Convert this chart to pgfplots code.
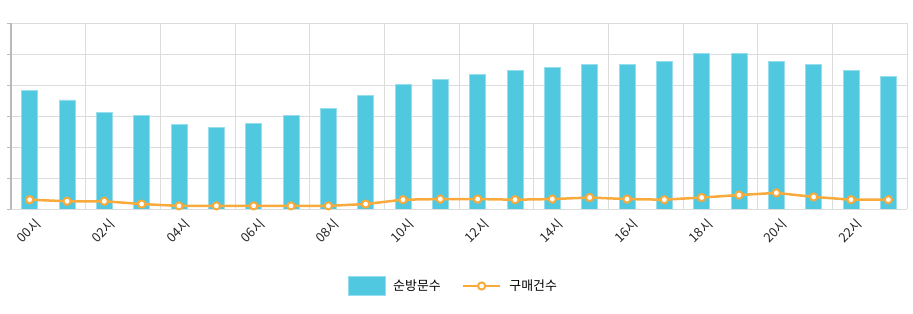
\documentclass[border=0pt]{standalone}
\usepackage{pgfplots}
\pgfplotsset{compat=1.18}
\usepackage{fontspec}
\setmainfont{Noto Sans CJK KR}
\definecolor{barblue}{RGB}{79,200,224}
\definecolor{baredge}{RGB}{150,222,238}
\definecolor{lineor}{RGB}{248,171,60}
\definecolor{gridc}{RGB}{220,220,220}
\definecolor{axc}{RGB}{185,185,190}
\begin{document}
\begin{tikzpicture}
\useasboundingbox (0,0) rectangle (913bp,314bp);
\begin{axis}[
  at={(11bp,105bp)}, anchor=south west,
  width=896bp, height=186bp, scale only axis,
  xmin=-0.5, xmax=23.5, ymin=0, ymax=6,
  axis line style={draw=none},
  xtick={0,2,...,22},
  xticklabels={00시,02시,04시,06시,08시,10시,12시,14시,16시,18시,20시,22시},
  xticklabel style={rotate=45, anchor=north east, font=\fontsize{13}{15}\selectfont, text=black!85, inner sep=1bp, xshift=1.3bp, yshift=-4.7bp},
  minor xtick={1.5,3.5,...,23.5},
  xminorgrids, ymajorgrids,
  minor grid style={gridc, line width=1bp},
  major grid style={gridc, line width=1bp},
  xtick style={draw=none},
  ytick={0,1,...,6}, yticklabel=\empty, ytick pos=left,
  ytick style={draw=axc, line width=1bp},
  tick align=outside, major tick length=4bp,
  legend style={at={(0.497,-0.414)}, anchor=center, draw=none, legend columns=2, font=\fontsize{13}{15}\selectfont,
    nodes={inner xsep=8bp},
    /tikz/every even column/.append style={column sep=13bp}},
  after end axis/.code={\draw[axc, line width=2bp] (rel axis cs:0,0) -- (rel axis cs:0,1);},
]
\addplot[ybar, bar width=16bp, fill=barblue, draw=baredge, line width=0.6bp,
  legend image code/.code={\draw[fill=barblue, draw=baredge, line width=0.6bp] (0bp,-9.5bp) rectangle (37bp,9.5bp);}]
coordinates {
(0,3.83) (1,3.52) (2,3.12) (3,3.01) (4,2.72) (5,2.63) (6,2.77) (7,3.01)
(8,3.24) (9,3.66) (10,4.01) (11,4.19) (12,4.33) (13,4.47) (14,4.56) (15,4.67)
(16,4.67) (17,4.76) (18,5.02) (19,5.02) (20,4.76) (21,4.67) (22,4.47) (23,4.27)
};
\addlegendentry{순방문수}
\addplot[lineor, line width=2.5bp, mark=*, mark size=3.6bp, mark options={fill=white, draw=lineor, line width=2bp},
  legend image code/.code={\draw[lineor, line width=2.5bp] (0bp,0bp) -- (37bp,0bp); \draw[fill=white, draw=lineor, line width=2bp] (18.5bp,0bp) circle (3.6bp);}]
coordinates {
(0,0.30) (1,0.25) (2,0.25) (3,0.16) (4,0.10) (5,0.10) (6,0.10) (7,0.10)
(8,0.10) (9,0.16) (10,0.30) (11,0.32) (12,0.32) (13,0.30) (14,0.32) (15,0.37)
(16,0.32) (17,0.30) (18,0.37) (19,0.45) (20,0.52) (21,0.39) (22,0.30) (23,0.30)
};
\addlegendentry{구매건수}
\end{axis}
\end{tikzpicture}
\end{document}
